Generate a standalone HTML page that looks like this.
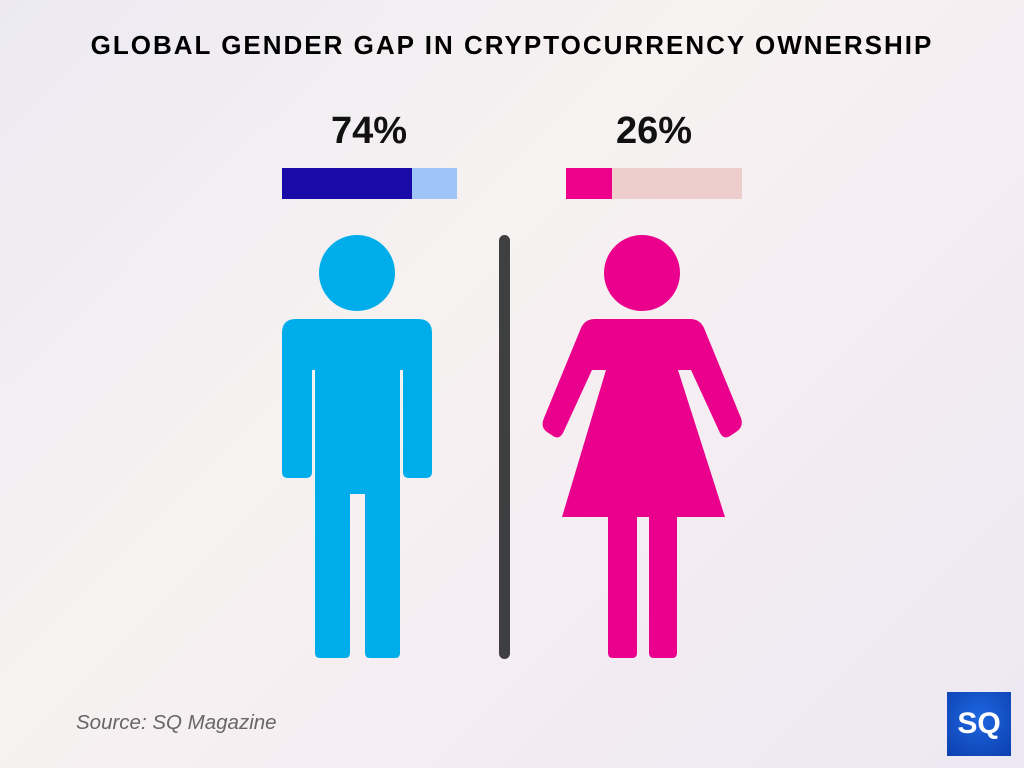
<!DOCTYPE html>
<html><head><style>
body{margin:0;width:1024px;height:768px;overflow:hidden;background:linear-gradient(135deg,#ece9f3 0%,#f6f2f1 40%,#f5eef2 60%,#ece8f3 100%);font-family:"Liberation Sans",sans-serif;position:relative}
.t{position:absolute;top:30px;left:0;width:1024px;text-align:center;font-weight:bold;font-size:26px;letter-spacing:2px;color:#000}
.p{position:absolute;top:110px;font-weight:bold;font-size:38px;color:#111;width:180px;text-align:center}
.src{position:absolute;left:76px;top:711px;font-style:italic;font-size:20.5px;color:#666}
.logo{position:absolute;left:947px;top:692px;width:64px;height:64px;background:radial-gradient(circle at 50% 40%,#1e66e0,#0c3fae);color:#fff;font-weight:bold;font-size:30px;text-align:center;line-height:64px}
</style></head><body>
<div class="t">GLOBAL GENDER GAP IN CRYPTOCURRENCY OWNERSHIP</div>
<div class="p" style="left:279px">74%</div>
<div class="p" style="left:564px">26%</div>
<svg width="1024" height="768" style="position:absolute;left:0;top:0">
<rect x="282" y="168" width="130" height="31" fill="#1a0aa8"/>
<rect x="412" y="168" width="45" height="31" fill="#9fc5f8"/>
<rect x="566" y="168" width="46" height="31" fill="#ec008c"/>
<rect x="612" y="168" width="130" height="31" fill="#efcdcc"/>
<rect x="499" y="235" width="11" height="424" rx="5.5" fill="#3f3f42"/>
<g fill="#00adeb">
<circle cx="357" cy="273" r="38"/>
<path d="M296,319 H418 Q432,319 432,333 V472 Q432,478 426,478 H409 Q403,478 403,472 V370 H400 V653 Q400,658 395,658 H370 Q365,658 365,653 V494 H350 V653 Q350,658 345,658 H320 Q315,658 315,653 V370 H312 V472 Q312,478 306,478 H288 Q282,478 282,472 V333 Q282,319 296,319 Z"/>
</g>
<g fill="#ea008c">
<circle cx="642" cy="273" r="38"/>
<path d="M595,319 H690 Q700,319 704,328 L741,418 Q744,427 736,432 L730,436 Q724,440 720,433 L691,370 H678 L725,517 H677 V653 Q677,658 672,658 H654 Q649,658 649,653 V517 H637 V653 Q637,658 632,658 H613 Q608,658 608,653 V517 H562 L606,370 H592 L563,433 Q559,440 553,436 L547,432 Q540,427 544,418 L581,328 Q585,319 595,319 Z"/>
</g>
</svg>
<div class="src">Source: SQ Magazine</div>
<div class="logo">SQ</div>
</body></html>
